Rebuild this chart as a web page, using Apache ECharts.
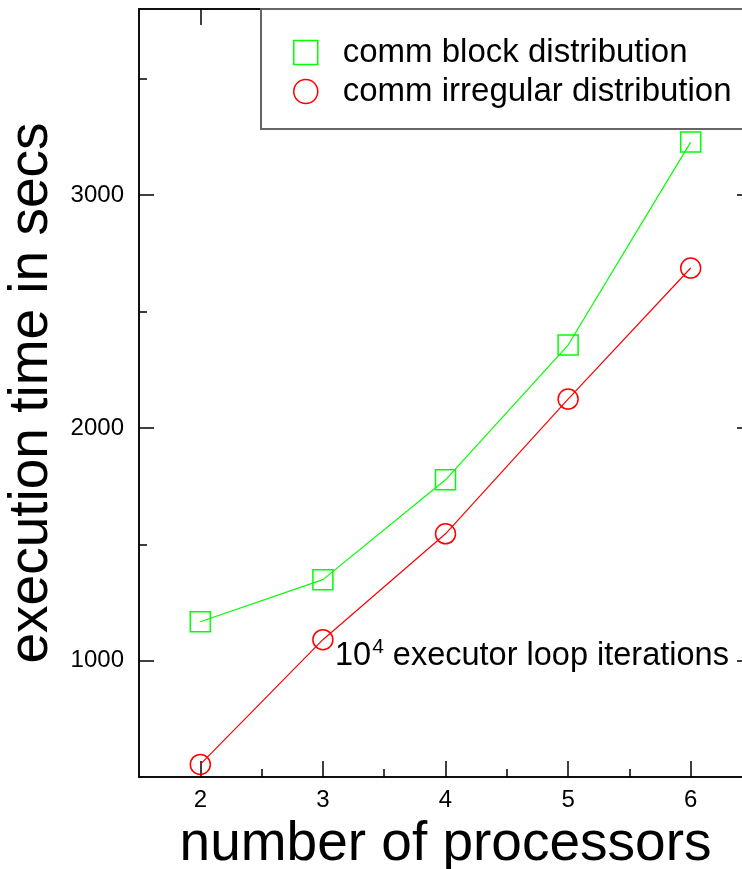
<!DOCTYPE html>
<html>
<head>
<meta charset="utf-8">
<script src="https://cdn.jsdelivr.net/npm/echarts@6/dist/echarts.min.js"></script>
<style>html,body{margin:0;padding:0;background:#fff;}#c{width:742px;height:869px;}</style>
</head>
<body>
<div id="c"></div>
<script>
const processors = [2, 3, 4, 5, 6];
const blockComm = [1167, 1348, 1777, 2356, 3228];
const irregularComm = [554, 1090, 1545, 2124, 2687];
const xMajorTicks = [2, 3, 4, 5, 6];
const xMinorTicks = [2.5, 3.5, 4.5, 5.5, 6.5];
const yMajorTicks = [1000, 2000, 3000];
const yMinorTicks = [1500, 2500, 3500];
const seriesNames = ['comm block distribution', 'comm irregular distribution'];

const FONT = 'Liberation Sans';
const chart = echarts.init(document.getElementById('c'));

function xAx(pos, ticks, len, labels, extra) {
  return Object.assign({
    type: 'value', position: pos, min: 1.5, max: 6.5,
    axisLine: {show: true, onZero: false, lineStyle: {color: '#000', width: 1.5}},
    axisTick: {show: true, inside: true, length: len, customValues: ticks, lineStyle: {color: '#000', width: 1.5}},
    axisLabel: labels ? {show: true, customValues: ticks, formatter: v => String(v), fontFamily: FONT, fontSize: 24, color: '#000', margin: 11} : {show: false},
    splitLine: {show: false}
  }, extra || {});
}
function yAx(pos, ticks, len, labels, extra) {
  return Object.assign({
    type: 'value', position: pos, min: 500, max: 3800,
    axisLine: {show: true, onZero: false, lineStyle: {color: '#000', width: 1.5}},
    axisTick: {show: true, inside: true, length: len, customValues: ticks, lineStyle: {color: '#000', width: 1.5}},
    axisLabel: labels ? {show: true, customValues: ticks, formatter: v => String(v), fontFamily: FONT, fontSize: 24, color: '#000', margin: 15} : {show: false},
    splitLine: {show: false}
  }, extra || {});
}

const option = {
  backgroundColor: '#fff',
  animation: false,
  grid: {left: 139, top: 9, right: -10, bottom: 92, containLabel: false, outerBoundsMode: 'none'},
  xAxis: [
    xAx('bottom', xMajorTicks, 16, true, {
      name: 'number of processors', nameLocation: 'middle', nameGap: 38,
      nameTextStyle: {fontFamily: FONT, fontSize: 55, color: '#000', verticalAlign: 'top'}
    }),
    xAx('bottom', xMinorTicks, 8, false),
    xAx('top', xMajorTicks, 16, false),
    xAx('top', xMinorTicks, 8, false)
  ],
  yAxis: [
    yAx('left', yMajorTicks, 15, true, {
      name: 'execution time in secs', nameLocation: 'middle', nameGap: 68,
      nameTextStyle: {fontFamily: FONT, fontSize: 55, color: '#000'}
    }),
    yAx('left', yMinorTicks, 8, false),
    yAx('right', yMajorTicks, 15, false),
    yAx('right', yMinorTicks, 8, false)
  ],
  legend: {
    orient: 'vertical', left: 261, top: 9,
    padding: [27, 40, 21, 32], itemGap: 6,
    itemWidth: 24, itemHeight: 24,
    backgroundColor: '#fff', borderColor: '#666', borderWidth: 2,
    textStyle: {fontFamily: FONT, fontSize: 33, color: '#000', padding: [0, 0, 0, 20]},
    data: [
      {name: seriesNames[0], icon: 'rect', itemStyle: {color: '#fff', borderColor: '#00ff00', borderWidth: 1.5}},
      {name: seriesNames[1], icon: 'circle', itemStyle: {color: '#fff', borderColor: '#ff0000', borderWidth: 1.5}}
    ],
    z: 10
  },
  series: [
    {
      name: seriesNames[0], type: 'line', xAxisIndex: 0, yAxisIndex: 0,
      data: processors.map((p, i) => [p, blockComm[i]]),
      symbol: 'rect', symbolSize: 20,
      lineStyle: {color: '#00ff00', width: 1.2},
      itemStyle: {color: 'rgba(255,255,255,0)', borderColor: '#00ff00', borderWidth: 1.5},
      z: 3
    },
    {
      name: seriesNames[1], type: 'line', xAxisIndex: 0, yAxisIndex: 0,
      data: processors.map((p, i) => [p, irregularComm[i]]),
      symbol: 'circle', symbolSize: 20,
      lineStyle: {color: '#ff0000', width: 1.2},
      itemStyle: {color: 'rgba(255,255,255,0)', borderColor: '#ff0000', borderWidth: 1.5},
      z: 3
    }
  ],
  graphic: [{
    type: 'text', left: 335, top: 637, z: 20,
    style: {
      text: '{a|10}{s|4}{a| executor loop iterations}',
      rich: {
        a: {fontFamily: FONT, fontSize: 32.5, fill: '#000', verticalAlign: 'bottom', lineHeight: 36},
        s: {fontFamily: FONT, fontSize: 21, fill: '#000', verticalAlign: 'top', lineHeight: 36, padding: [0, 0, 0, 1]}
      },
      backgroundColor: '#fff'
    }
  }]
};
chart.setOption(option);
</script>
</body>
</html>
